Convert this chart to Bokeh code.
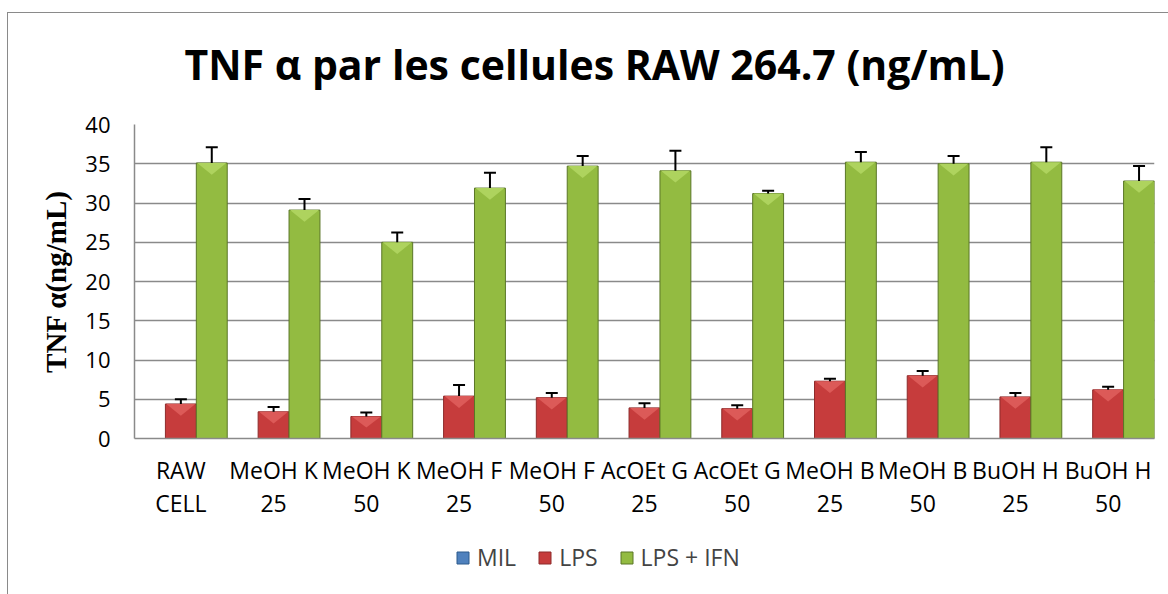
from bokeh.plotting import figure
from bokeh.layouts import column
from bokeh.models import (FactorRange, Range1d, FixedTicker, Legend, LegendItem,
                          ColumnDataSource)
from bokeh.transform import dodge
from bokeh.embed import file_html
from bokeh.resources import INLINE

# Samples (two-line category labels) and TNF-alpha values in ng/mL
groups = ["RAW\nCELL", "MeOH K\n25", "MeOH K\n50", "MeOH F\n25", "MeOH F\n50",
          "AcOEt G\n25", "AcOEt G\n50", "MeOH B\n25", "MeOH B\n50",
          "BuOH H\n25", "BuOH H\n50"]
mil = [0, 0, 0, 0, 0, 0, 0, 0, 0, 0, 0]
lps = [4.4, 3.4, 2.8, 5.4, 5.2, 3.9, 3.8, 7.3, 8.0, 5.3, 6.2]
lps_err = [0.6, 0.6, 0.5, 1.4, 0.6, 0.6, 0.45, 0.3, 0.6, 0.5, 0.4]
ifn = [35.1, 29.1, 25.0, 31.9, 34.7, 34.1, 31.2, 35.2, 35.0, 35.2, 32.8]
ifn_err = [2.0, 1.4, 1.25, 1.95, 1.3, 2.55, 0.35, 1.3, 1.0, 1.9, 1.9]
y_ticks = [0, 5, 10, 15, 20, 25, 30, 35, 40]

series_colors = {"MIL": ("#4F81BD", "#2C5A8C"),
                 "LPS": ("#C63C3C", "#8E2B2B"),
                 "LPS + IFN": ("#93BB41", "#5A7627")}

src = ColumnDataSource(dict(
    group=groups, mil=mil, lps=lps, ifn=ifn,
    lps_top=[v + e for v, e in zip(lps, lps_err)],
    ifn_top=[v + e for v, e in zip(ifn, ifn_err)],
))

# ---- main chart -------------------------------------------------------
p = figure(
    x_range=FactorRange(*groups), y_range=Range1d(0, 40),
    width=1168, height=530,
    output_backend="svg", toolbar_location=None,
    min_border_left=134, min_border_right=14,
    min_border_top=124, min_border_bottom=92,
)
p.outline_line_color = None
p.background_fill_color = "white"
p.border_fill_color = None

bw = 1 / 3
p.vbar(x=dodge("group", -bw, range=p.x_range), top="mil", width=bw,
       source=src, fill_color=series_colors["MIL"][0], line_color=None)
p.vbar(x=dodge("group", 0, range=p.x_range), top="lps", width=bw,
       source=src, fill_color=series_colors["LPS"][0],
       line_color=series_colors["LPS"][1])
p.vbar(x=dodge("group", bw, range=p.x_range), top="ifn", width=bw,
       source=src, fill_color=series_colors["LPS + IFN"][0],
       line_color=series_colors["LPS + IFN"][1])

# bevelled top of each bar: a lighter chevron
bevel = 1.5
for off, vals, col in [(0, lps, "#DC5A58"), (bw, ifn, "#AED35E")]:
    xs = [[(g, off - bw / 2 + 0.01), (g, off + bw / 2 - 0.01), (g, off)] for g in groups]
    ys = [[v, v, v - min(bevel, v / 2)] for v in vals]
    p.patches(xs=xs, ys=ys, fill_color=col, line_color=None)

# upper error bars
for off, base, top in [(0, "lps", "lps_top"), (bw, "ifn", "ifn_top")]:
    xs = dodge("group", off, range=p.x_range)
    p.segment(x0=xs, y0=base, x1=xs, y1=top, source=src,
              line_color="black", line_width=2)
    p.scatter(x=xs, y=top, source=src, marker="dash", size=12,
              line_color="black", line_width=2)

p.title.text = "TNF α par les cellules RAW 264.7 (ng/mL)"
p.title.align = "left"
p.title.offset = 50
p.title.text_font = "Open Sans"
p.title.text_font_size = "41px"
p.title.text_font_style = "bold"
p.title.text_color = "black"
p.title.standoff = 66

p.xgrid.grid_line_color = None
p.ygrid.ticker = FixedTicker(ticks=y_ticks)
p.ygrid.grid_line_color = "#8a8a8a"
p.ygrid.grid_line_width = 1.5

p.xaxis.axis_line_color = "#8a8a8a"
p.xaxis.axis_line_width = 1.5
p.xaxis.major_tick_line_color = None
p.xaxis.minor_tick_line_color = None
p.xaxis.major_label_text_font = "Open Sans"
p.xaxis.major_label_text_font_size = "23px"
p.xaxis.major_label_text_color = "black"
p.xaxis.major_label_standoff = 9
p.xaxis.major_label_text_line_height = 1.05

p.yaxis.ticker = FixedTicker(ticks=y_ticks)
p.yaxis.axis_line_color = "#8a8a8a"
p.yaxis.axis_line_width = 1.5
p.yaxis.major_tick_line_color = None
p.yaxis.minor_tick_line_color = None
p.yaxis.major_label_text_font = "Open Sans"
p.yaxis.major_label_text_font_size = "22px"
p.yaxis.major_label_text_color = "black"
p.yaxis.major_label_standoff = 18
p.yaxis.axis_label = "TNF α(ng/mL)"
p.yaxis.axis_label_text_font = "Liberation Serif"
p.yaxis.axis_label_text_font_style = "bold"
p.yaxis.axis_label_text_font_size = "29px"
p.yaxis.axis_label_text_color = "black"
p.yaxis.axis_label_standoff = 10

# ---- legend strip under the chart -----------------------------------
leg = figure(width=1168, height=64, x_range=Range1d(0, 1), y_range=Range1d(0, 1),
             output_backend="svg", toolbar_location=None,
             x_axis_location=None, y_axis_location=None,
             min_border_left=0, min_border_right=0,
             min_border_top=0, min_border_bottom=0)
leg.outline_line_color = None
leg.background_fill_color = None
leg.border_fill_color = None
leg.grid.visible = False

# hidden key renderers: they only lend their colours to the legend swatches
items = []
for name, (fill, line) in series_colors.items():
    key = leg.vbar(x=[0.5], top=[0.5], width=0.1, fill_color=fill,
                   line_color=line, visible=False)
    items.append(LegendItem(label=name, renderers=[key]))

legend = Legend(
    items=items, orientation="horizontal", location=(321, 21),
    glyph_width=15, glyph_height=15, label_standoff=7, spacing=21,
    label_text_font="Open Sans", label_text_font_size="23px",
    padding=0, margin=0, border_line_color=None, background_fill_alpha=0,
    inactive_fill_alpha=0,
)
leg.add_layout(legend)

page = column(
    p, leg, spacing=0,
    styles={
        "background-color": "white",
        "background-image": "linear-gradient(#8a8a8a, #8a8a8a), linear-gradient(#8a8a8a, #8a8a8a)",
        "background-position": "7px 12px, 7px 12px",
        "background-size": "1px 100%, 100% 1px",
        "background-repeat": "no-repeat",
    },
)

open("out.html", "w").write(file_html(page, INLINE))
